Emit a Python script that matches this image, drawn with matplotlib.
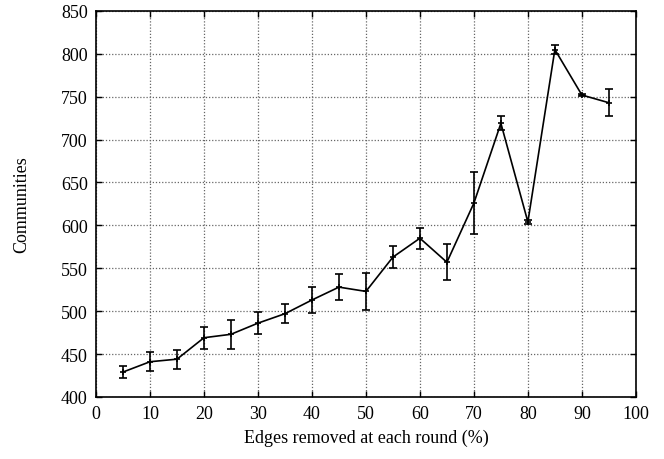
import matplotlib
matplotlib.use("Agg")
import matplotlib.pyplot as plt

# edges removed per round (%) vs. number of communities found
removed = [5, 10, 15, 20, 25, 30, 35, 40, 45, 50, 55, 60, 65, 70, 75, 80, 85, 90, 95]
communities = [429, 441, 444, 469, 473, 486, 497, 513, 528, 523,
               563, 585, 557, 626, 719, 604, 805, 752, 743]
spread = [7, 11, 11, 13, 17, 13, 11, 15, 15, 22,
          13, 12, 21, 36, 8, 2, 5, 1, 16]

plt.rcParams["font.family"] = ["Liberation Serif", "DejaVu Serif"]
plt.rcParams["font.size"] = 13

fig = plt.figure(figsize=(6.64, 4.60), dpi=100)
ax = fig.add_axes([0.1446, 0.135, 0.813, 0.839])

ax.errorbar(removed, communities, yerr=spread, color="black", lw=1.2,
            elinewidth=1.2, capsize=3, capthick=1.2, marker="+", ms=5, mew=1.2)

ax.set_xlim(0, 100)
ax.set_ylim(400, 850)
ax.set_xticks(range(0, 101, 10))
ax.set_yticks(range(400, 851, 50))
ax.grid(True, color="#666666", linestyle=(0, (1, 1.5)), linewidth=0.9)
ax.tick_params(direction="in", top=True, right=True, length=4, width=1, pad=6)
for s in ax.spines.values():
    s.set_linewidth(1.2)

ax.set_xlabel("Edges removed at each round (%)", labelpad=5)
ax.set_ylabel("Communities", labelpad=22)

fig.savefig("out.png", dpi=100)
